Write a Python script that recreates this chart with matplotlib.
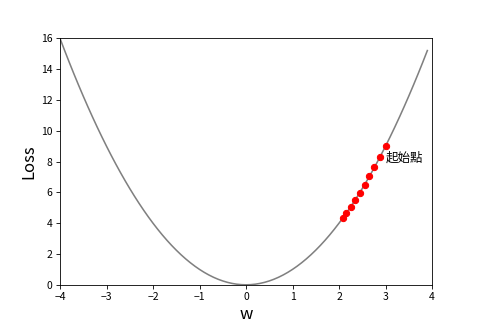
import numpy as np
import matplotlib
matplotlib.use("Agg")
import matplotlib.pyplot as plt

plt.rcParams['font.family'] = ['Noto Sans CJK TC', 'DejaVu Sans']

# loss curve L(w) = w^2
w_curve = np.arange(-4, 4, 0.1)
loss_curve = w_curve ** 2

# gradient descent steps
w_steps = [3.0, 2.88, 2.76, 2.65, 2.55, 2.45, 2.35, 2.25, 2.16, 2.08]
loss_steps = [9.0, 8.29, 7.64, 7.04, 6.49, 5.98, 5.51, 5.08, 4.68, 4.32]

start_label = '起始點'

fig, ax = plt.subplots(figsize=(6.4, 320 / 75))
ax.plot(w_curve, loss_curve, color='gray')
ax.plot(w_steps, loss_steps, 'ro', markersize=6)
ax.text(w_steps[0], 8, start_label, fontsize=12)

ax.set_xlim(-4, 4)
ax.set_ylim(0, 16)
ax.set_xlabel('w', fontsize=16)
ax.set_ylabel('Loss', fontsize=16)

fig.savefig('out.png', dpi=75)
